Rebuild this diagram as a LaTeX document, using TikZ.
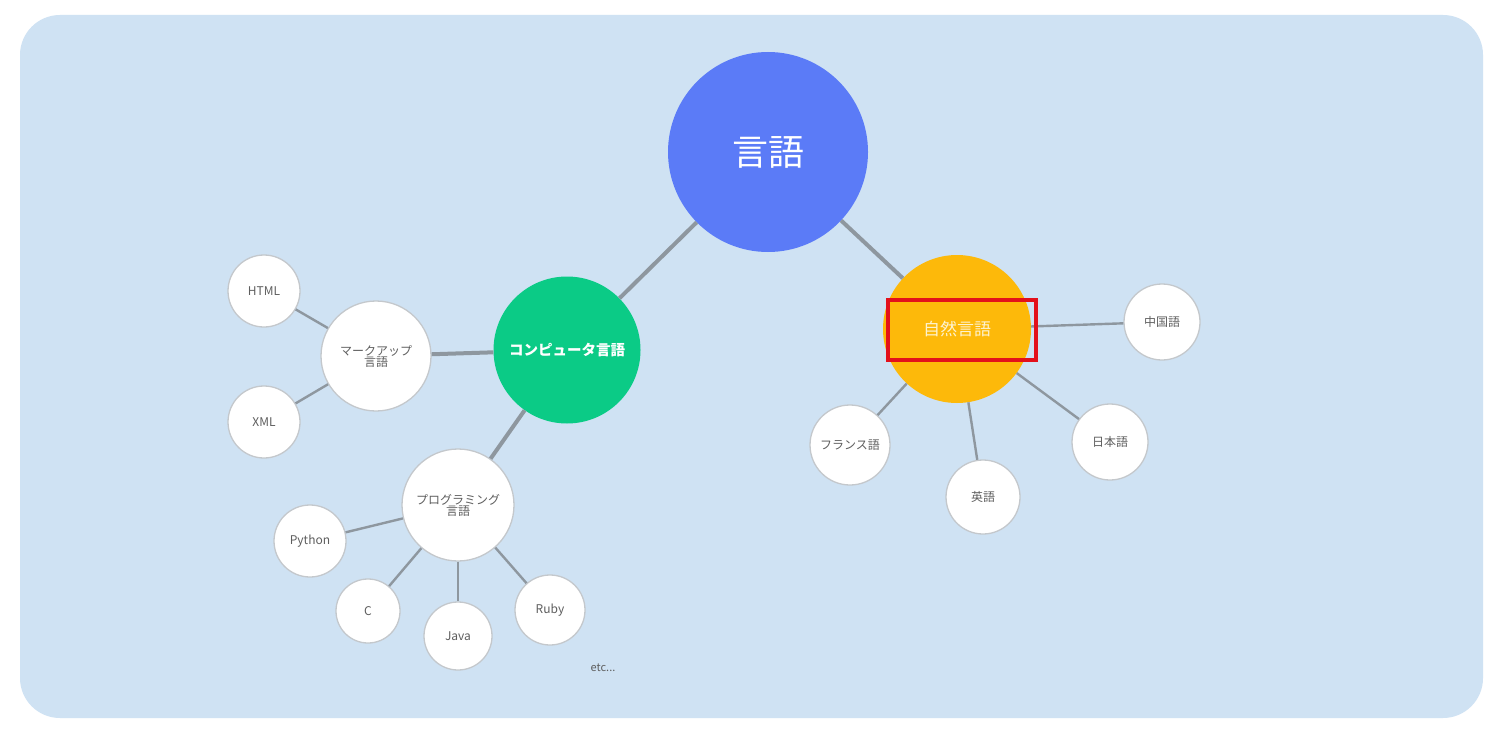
\documentclass[tikz,border=0pt]{standalone}
\usepackage{fontspec}
\setmainfont{Noto Sans CJK JP}
\begin{document}
\begin{tikzpicture}[x=1pt,y=-1pt,
  bub/.style={circle,fill=white,draw=bubline,line width=1.3pt,inner sep=0pt,
    text=txtgray,font=\fontsize{12}{13}\selectfont,align=center},
  hub/.style={circle,draw=none,inner sep=0pt,text=white,align=center},
  thick edge/.style={draw=edgegray,line width=4pt},
  thin edge/.style={draw=edgegray,line width=2.4pt}]
\definecolor{bgblue}{HTML}{CFE2F3}
\definecolor{bubline}{HTML}{C4C8CC}
\definecolor{txtgray}{HTML}{5E5E5E}
\definecolor{edgegray}{HTML}{8E979F}
\definecolor{rootblue}{HTML}{5B7BF7}
\definecolor{compgreen}{HTML}{0BCB86}
\definecolor{natyellow}{HTML}{FDB90A}
\definecolor{paletext}{HTML}{FDF3D0}
\definecolor{hlred}{HTML}{E3101A}
\useasboundingbox (0,0) rectangle (1495,733);
\fill[white] (0,0) rectangle (1495,733);
\fill[bgblue,rounded corners=40pt] (20,15) rectangle (1483,718);

\node[hub,fill=rootblue,minimum size=200pt,font=\fontsize{36}{40}\selectfont] (root) at (768,152) {言語};
\node[hub,fill=compgreen,minimum size=147pt,font=\bfseries\fontsize{14.5}{16}\selectfont] (comp) at (567,350) {コンピュータ言語};
\node[hub,fill=natyellow,minimum size=148pt,text=paletext,font=\fontsize{17}{19}\selectfont] (nat) at (957,329) {自然言語};

\node[bub,minimum size=110pt] (markup) at (376,356) {マークアップ\\[-2pt]言語};
\node[bub,minimum size=72pt] (html) at (264,291) {HTML};
\node[bub,minimum size=72pt] (xml) at (264,422) {XML};
\node[bub,minimum size=112pt] (prog) at (458,505) {プログラミング\\[-2pt]言語};
\node[bub,minimum size=72pt] (python) at (310,541) {Python};
\node[bub,minimum size=64pt] (c) at (368,611) {C};
\node[bub,minimum size=68pt] (java) at (458,636) {Java};
\node[bub,minimum size=70pt] (ruby) at (550,610) {Ruby};

\node[bub,minimum size=76pt] (zh) at (1162,322) {中国語};
\node[bub,minimum size=76pt] (ja) at (1110,442) {日本語};
\node[bub,minimum size=74pt] (en) at (983,497) {英語};
\node[bub,minimum size=80pt] (fr) at (850,445) {フランス語};

\node[text=txtgray,font=\fontsize{11}{12}\selectfont] (etc) at (603,668) {etc...};

\draw[thick edge] (root) -- (comp);
\draw[thick edge] (root) -- (nat);
\draw[thick edge] (comp) -- (markup);
\draw[thick edge] (comp) -- (prog);
\draw[thin edge] (markup) -- (html);
\draw[thin edge] (markup) -- (xml);
\draw[thin edge] (prog) -- (python);
\draw[thin edge] (prog) -- (c);
\draw[thin edge] (prog) -- (java);
\draw[thin edge] (prog) -- (ruby);
\draw[thin edge] (nat) -- (zh);
\draw[thin edge] (nat) -- (ja);
\draw[thin edge] (nat) -- (en);
\draw[thin edge] (nat) -- (fr);

\node[draw=hlred,line width=4pt,minimum width=148pt,minimum height=60pt,inner sep=0pt] (hl) at (962,329.5) {};
\end{tikzpicture}
\end{document}
